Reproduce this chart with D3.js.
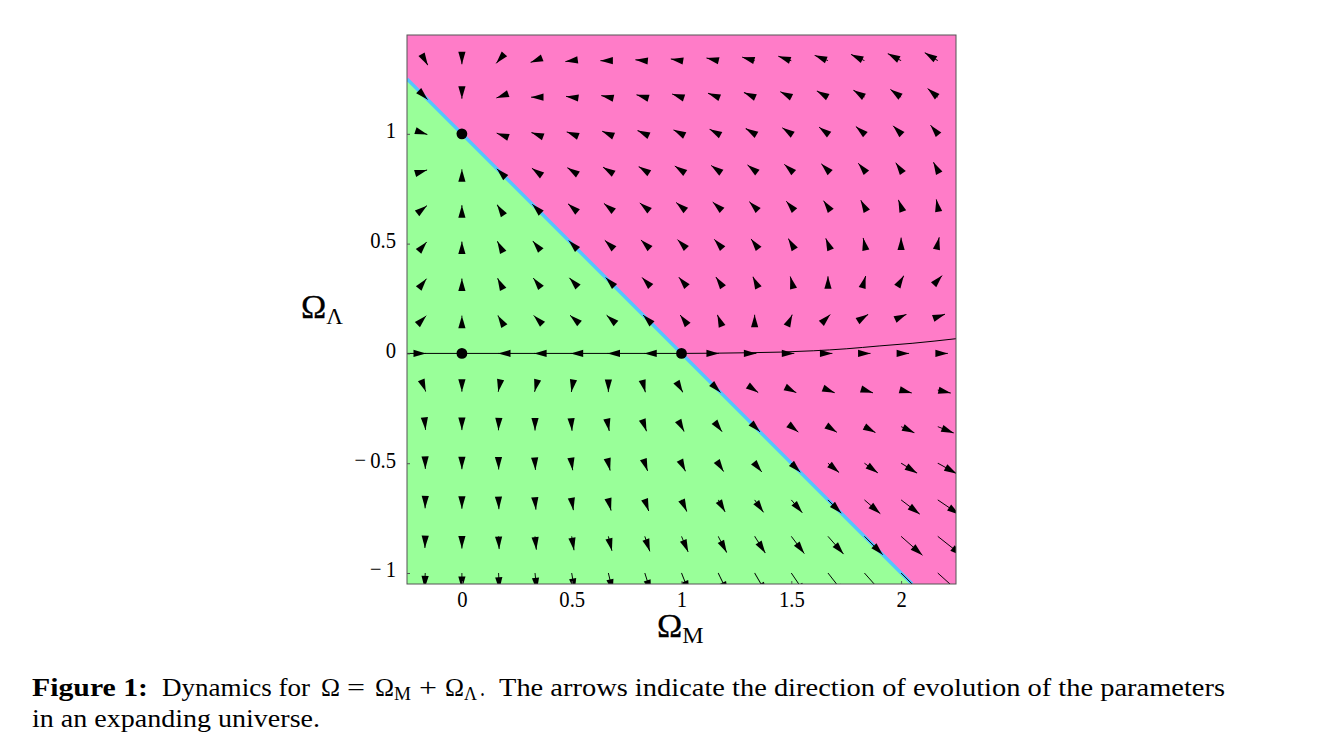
<!DOCTYPE html>
<html>
<head>
<meta charset="utf-8">
<title>Dynamics for Omega</title>
<script src="https://cdn.jsdelivr.net/npm/d3@7"></script>
<style>
    body { margin: 0; background: #fff; }
    svg { display: block; }
    text { font-family: "Liberation Serif", serif; fill: #000; }
</style>
</head>
<body>
<div id="chart"></div>
<script>
// grid of the arrows
var gridM = [-0.167, 0, 0.167, 0.333, 0.5, 0.667, 0.833, 1, 1.167, 1.333, 1.5, 1.667, 1.833, 2, 2.167];
var gridL = [1.333, 1.167, 1, 0.833, 0.667, 0.5, 0.333, 0.167, 0, -0.167, -0.333, -0.5, -0.667, -0.833, -1];

// arrow components, one row per gridL value
var flowM = [
    [0.64, 0, -0.58, -1.11, -1.58, -2, -2.36, -2.67, -2.92, -3.11, -3.25, -3.33, -3.36, -3.33, -3.25],
    [0.58, 0, -0.53, -1, -1.42, -1.78, -2.08, -2.33, -2.53, -2.67, -2.75, -2.78, -2.75, -2.67, -2.53],
    [0.53, 0, -0.47, -0.89, -1.25, -1.56, -1.81, -2, -2.14, -2.22, -2.25, -2.22, -2.14, -2, -1.81],
    [0.47, 0, -0.42, -0.78, -1.08, -1.33, -1.53, -1.67, -1.75, -1.78, -1.75, -1.67, -1.53, -1.33, -1.08],
    [0.42, 0, -0.36, -0.67, -0.92, -1.11, -1.25, -1.33, -1.36, -1.33, -1.25, -1.11, -0.92, -0.67, -0.36],
    [0.36, 0, -0.31, -0.56, -0.75, -0.89, -0.97, -1, -0.97, -0.89, -0.75, -0.56, -0.31, 0, 0.36],
    [0.31, 0, -0.25, -0.44, -0.58, -0.67, -0.69, -0.67, -0.58, -0.44, -0.25, 0, 0.31, 0.67, 1.08],
    [0.25, 0, -0.19, -0.33, -0.42, -0.44, -0.42, -0.33, -0.19, 0, 0.25, 0.56, 0.92, 1.33, 1.81],
    [0.19, 0, -0.14, -0.22, -0.25, -0.22, -0.14, 0, 0.19, 0.44, 0.75, 1.11, 1.53, 2, 2.53],
    [0.14, 0, -0.08, -0.11, -0.08, 0, 0.14, 0.33, 0.58, 0.89, 1.25, 1.67, 2.14, 2.67, 3.25],
    [0.08, 0, -0.03, 0, 0.08, 0.22, 0.42, 0.67, 0.97, 1.33, 1.75, 2.22, 2.75, 3.33, 3.97],
    [0.03, 0, 0.03, 0.11, 0.25, 0.44, 0.69, 1, 1.36, 1.78, 2.25, 2.78, 3.36, 4, 4.69],
    [-0.03, 0, 0.08, 0.22, 0.42, 0.67, 0.97, 1.33, 1.75, 2.22, 2.75, 3.33, 3.97, 4.67, 5.42],
    [-0.08, 0, 0.14, 0.33, 0.58, 0.89, 1.25, 1.67, 2.14, 2.67, 3.25, 3.89, 4.58, 5.33, 6.14],
    [-0.14, 0, 0.19, 0.44, 0.75, 1.11, 1.53, 2, 2.53, 3.11, 3.75, 4.44, 5.19, 6, 6.86]
];
var flowL = [
    [-1.11, -0.89, -0.67, -0.44, -0.22, 0, 0.22, 0.44, 0.67, 0.89, 1.11, 1.33, 1.56, 1.78, 2],
    [-0.58, -0.39, -0.19, 0, 0.19, 0.39, 0.58, 0.78, 0.97, 1.17, 1.36, 1.56, 1.75, 1.94, 2.14],
    [-0.17, 0, 0.17, 0.33, 0.5, 0.67, 0.83, 1, 1.17, 1.33, 1.5, 1.67, 1.83, 2, 2.17],
    [0.14, 0.28, 0.42, 0.56, 0.69, 0.83, 0.97, 1.11, 1.25, 1.39, 1.53, 1.67, 1.81, 1.94, 2.08],
    [0.33, 0.44, 0.56, 0.67, 0.78, 0.89, 1, 1.11, 1.22, 1.33, 1.44, 1.56, 1.67, 1.78, 1.89],
    [0.42, 0.5, 0.58, 0.67, 0.75, 0.83, 0.92, 1, 1.08, 1.17, 1.25, 1.33, 1.42, 1.5, 1.58],
    [0.39, 0.44, 0.5, 0.56, 0.61, 0.67, 0.72, 0.78, 0.83, 0.89, 0.94, 1, 1.06, 1.11, 1.17],
    [0.25, 0.28, 0.31, 0.33, 0.36, 0.39, 0.42, 0.44, 0.47, 0.5, 0.53, 0.56, 0.58, 0.61, 0.64],
    [0, 0, 0, 0, 0, 0, 0, 0, 0, 0, 0, 0, 0, 0, 0],
    [-0.36, -0.39, -0.42, -0.44, -0.47, -0.5, -0.53, -0.56, -0.58, -0.61, -0.64, -0.67, -0.69, -0.72, -0.75],
    [-0.83, -0.89, -0.94, -1, -1.06, -1.11, -1.17, -1.22, -1.28, -1.33, -1.39, -1.44, -1.5, -1.56, -1.61],
    [-1.42, -1.5, -1.58, -1.67, -1.75, -1.83, -1.92, -2, -2.08, -2.17, -2.25, -2.33, -2.42, -2.5, -2.58],
    [-2.11, -2.22, -2.33, -2.44, -2.56, -2.67, -2.78, -2.89, -3, -3.11, -3.22, -3.33, -3.44, -3.56, -3.67],
    [-2.92, -3.06, -3.19, -3.33, -3.47, -3.61, -3.75, -3.89, -4.03, -4.17, -4.31, -4.44, -4.58, -4.72, -4.86],
    [-3.83, -4, -4.17, -4.33, -4.5, -4.67, -4.83, -5, -5.17, -5.33, -5.5, -5.67, -5.83, -6, -6.17]
];

// fixed points
var pointsM = [0, 0, 1];
var pointsL = [1, 0, 0];

// thin line through the fixed points
var curveM = [-0.25, 0, 1, 1.15, 1.3, 1.45, 1.6, 1.75, 1.9, 2.05, 2.25];
var curveL = [0, 0, 0, 0.001, 0.003, 0.006, 0.012, 0.021, 0.034, 0.046, 0.067];

// flat universe line, where the two colours meet
var flatM = [-0.25, 2.05];
var flatL = [1.25, -1.05];

var domainM = [-0.25, 2.25];
var domainL = [-1.05, 1.45];

var ticksM = [0, 0.5, 1, 1.5, 2];
var ticksMLabels = ["0", "0.5", "1", "1.5", "2"];
var ticksL = [-1, -0.5, 0, 0.5, 1];
var ticksLLabels = ["\u2212\u20091", "\u2212\u20090.5", "0", "0.5", "1"];

var width = 1334, height = 738;
var margin = { top: 35, right: 378, bottom: 154, left: 407 };
var plotW = width - margin.left - margin.right,
    plotH = height - margin.top - margin.bottom;

var root = d3.select("#chart").append("svg")
    .attr("width", width)
    .attr("height", height);

var svg = root.append("g")
    .attr("transform", "translate(" + margin.left + "," + margin.top + ")");

var x = d3.scaleLinear().domain(domainM).range([0, plotW]);
var y = d3.scaleLinear().domain(domainL).range([plotH, 0]);
// pixels of arrow per unit of flow
var flow = d3.scaleLinear().domain([0, 1]).range([0, 4]);

svg.append("clipPath").attr("id", "plot-clip")
    .append("rect")
    .attr("width", plotW)
    .attr("height", plotH);

var plot = svg.append("g").attr("clip-path", "url(#plot-clip)");

// background regions
plot.append("rect")
    .attr("width", plotW)
    .attr("height", plotH)
    .attr("fill", "#ff7cc8");

plot.append("path")
    .attr("fill", "#99ff99")
    .attr("d", d3.line()([
        [x(flatM[0]), y(flatL[0])],
        [x(flatM[1]), y(flatL[1])],
        [x(domainM[0]), y(domainL[0])]
    ]) + "Z");

plot.append("line")
    .attr("x1", x(flatM[0])).attr("y1", y(flatL[0]))
    .attr("x2", x(flatM[1])).attr("y2", y(flatL[1]))
    .attr("stroke", "#55c4ff")
    .attr("stroke-width", 3.4);

// trajectory
var line = d3.line()
    .x(function (d, i) { return x(d); })
    .y(function (d, i) { return y(curveL[i]); })
    .curve(d3.curveMonotoneX);
plot.append("path")
    .datum(curveM)
    .attr("fill", "none")
    .attr("stroke", "#000")
    .attr("stroke-width", 1)
    .attr("d", line);

// arrows
var arrows = [];
gridL.forEach(function (l, r) {
    gridM.forEach(function (m, c) {
        arrows.push({ m: m, l: l, u: flowM[r][c], v: flowL[r][c] });
    });
});
arrows = arrows.filter(function (d) { return d.u !== 0 || d.v !== 0; });

var headLength = 12.5, headHalf = 3.6;

var arrow = plot.selectAll("g.arrow")
    .data(arrows)
    .enter()
    .append("g")
    .attr("class", "arrow")
    .attr("transform", function (d) {
        var a = Math.atan2(-d.v, d.u) * 180 / Math.PI;
        return "translate(" + x(d.m) + "," + y(d.l) + ")rotate(" + a + ")";
    });

function arrowSize(d) { return flow(Math.sqrt(d.u * d.u + d.v * d.v)); }

arrow.append("line")
    .attr("x2", arrowSize)
    .attr("stroke", "#000")
    .attr("stroke-width", 0.9);

arrow.append("path")
    .attr("fill", "#000")
    .attr("d", function (d) {
        var tip = arrowSize(d);
        return d3.line()([[tip, 0], [tip - headLength, -headHalf], [tip - headLength, headHalf]]) + "Z";
    });

// dots
plot.selectAll("circle")
    .data(pointsM)
    .enter()
    .append("circle")
    .attr("cx", function (d) { return x(d); })
    .attr("cy", function (d, i) { return y(pointsL[i]); })
    .attr("r", 5.4)
    .attr("fill", "#000");

// frame
svg.append("rect")
    .attr("width", plotW)
    .attr("height", plotH)
    .attr("fill", "none")
    .attr("stroke", "#555")
    .attr("stroke-width", 1);

// axes
var xAxis = svg.append("g")
    .attr("transform", "translate(0," + plotH + ")")
    .call(d3.axisBottom(x)
        .tickValues(ticksM)
        .tickFormat(function (d, i) { return ticksMLabels[i]; })
        .tickSize(-3)
        .tickPadding(6));
var yAxis = svg.append("g")
    .call(d3.axisLeft(y)
        .tickValues(ticksL)
        .tickFormat(function (d, i) { return ticksLLabels[i]; })
        .tickSize(-3)
        .tickPadding(11));
[xAxis, yAxis].forEach(function (a) {
    a.select(".domain").remove();
    a.selectAll("line").attr("stroke", "#555");
    a.selectAll("text")
        .style("font-family", '"Liberation Serif", serif')
        .style("font-size", "24px")
        .attr("fill", "#000")
        .attr("lengthAdjust", "spacingAndGlyphs")
        .attr("textLength", function () { return this.getComputedTextLength() * 0.86; });
});
yAxis.selectAll("text").attr("dy", "0.16em");

// axis titles
function addOmega(px, py, sub, size, subSize) {
    var t = root.append("text")
        .attr("x", px)
        .attr("y", py)
        .attr("font-size", size)
        .style("stroke", "#000")
        .style("stroke-width", 0.3);
    t.append("tspan").text("\u03a9");
    t.append("tspan")
        .attr("dy", 6)
        .attr("font-size", subSize)
        .style("stroke-width", 0)
        .text(sub);
}
addOmega(657, 637, "M", 34, 24);
addOmega(301, 318, "\u039b", 34, 23);

// caption
var capLine1 = 696, capLine2 = 727;
var caption = [
    { text: "Figure 1:", x: 32, y: capLine1, len: 116, bold: true },
    { text: "Dynamics for", x: 162, y: capLine1, len: 148 },
    { text: "\u03a9", x: 321, y: capLine1, len: 19 },
    { text: "=", x: 347, y: capLine1, len: 18 },
    { text: "\u03a9", x: 375, y: capLine1, len: 19 },
    { text: "M", x: 394, y: capLine1 + 4, len: 17, size: 18 },
    { text: "+", x: 419, y: capLine1, len: 18 },
    { text: "\u03a9", x: 445, y: capLine1, len: 19 },
    { text: "\u039b", x: 464, y: capLine1 + 4, len: 13, size: 18 },
    { text: ".", x: 480, y: capLine1, len: 5 },
    { text: "The arrows indicate the direction of evolution of the parameters", x: 499, y: capLine1, len: 726 },
    { text: "in an expanding universe.", x: 32, y: capLine2, len: 288 }
];
root.selectAll("text.caption")
    .data(caption)
    .enter()
    .append("text")
    .attr("class", "caption")
    .attr("x", function (d) { return d.x; })
    .attr("y", function (d) { return d.y; })
    .attr("font-size", function (d) { return d.size || 26; })
    .attr("font-weight", function (d) { return d.bold ? "bold" : "normal"; })
    .attr("textLength", function (d) { return d.len; })
    .attr("lengthAdjust", "spacingAndGlyphs")
    .text(function (d) { return d.text; });
</script>
</body>
</html>
